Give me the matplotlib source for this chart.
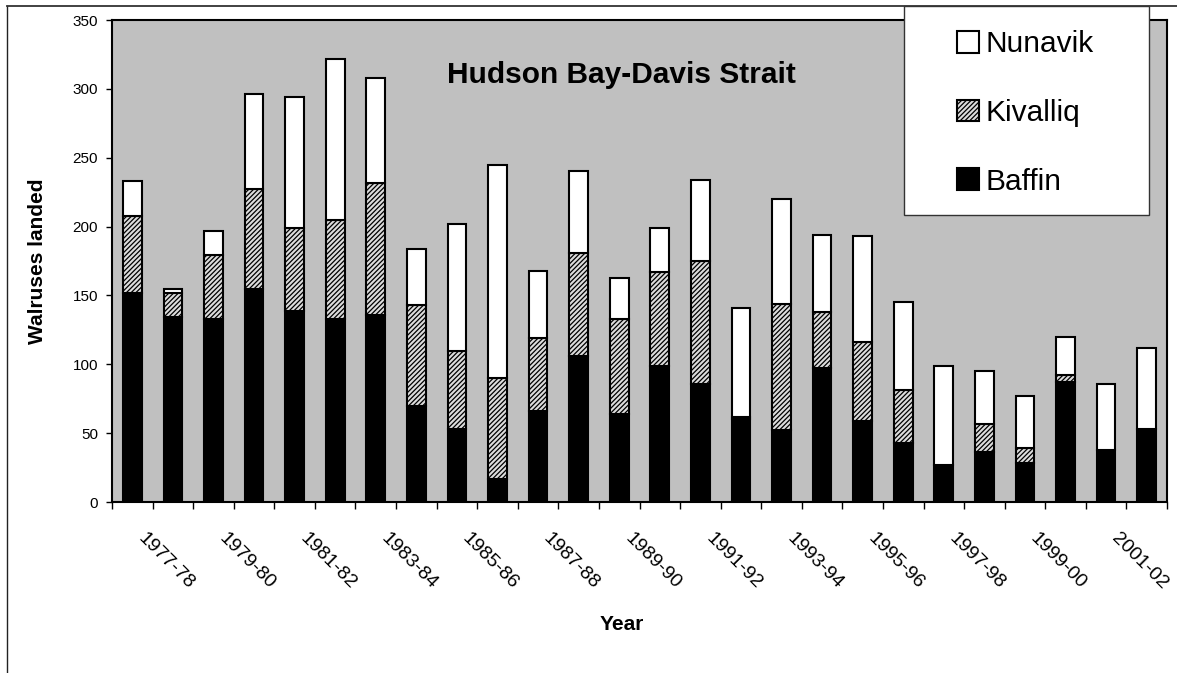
import numpy as np
import matplotlib
matplotlib.use("Agg")
import matplotlib.pyplot as plt
import matplotlib.transforms as mtransforms
from matplotlib.patches import Rectangle
from matplotlib.lines import Line2D

plt.rcParams['font.family'] = ['Liberation Sans', 'DejaVu Sans']
plt.rcParams['hatch.linewidth'] = 0.9

seasons = ["1977-78", "1978-79", "1979-80", "1980-81", "1981-82", "1982-83", "1983-84",
           "1984-85", "1985-86", "1986-87", "1987-88", "1988-89", "1989-90", "1990-91",
           "1991-92", "1992-93", "1993-94", "1994-95", "1995-96", "1996-97", "1997-98",
           "1998-99", "1999-00", "2000-01", "2001-02", "2002-03"]
baffin = [152, 134, 133, 155, 139, 133, 136, 70, 53, 17, 66, 106, 64, 99, 86, 60, 52,
          97, 59, 43, 27, 36, 28, 87, 38, 53]
kivalliq = [56, 18, 46, 72, 60, 72, 96, 73, 57, 73, 53, 75, 69, 68, 89, 2, 92, 41, 57,
            38, 0, 21, 11, 5, 0, 0]
nunavik = [25, 3, 18, 69, 95, 117, 76, 41, 92, 155, 49, 59, 30, 32, 59, 79, 76, 56, 77,
           64, 72, 38, 38, 28, 48, 59]
yticks = [0, 50, 100, 150, 200, 250, 300, 350]

W, H = 1177, 673
fig = plt.figure(figsize=(W / 100, H / 100), dpi=100)
ax = fig.add_axes([112 / W, 1 - 502 / H, 1055 / W, 482 / H])
ax.set_facecolor('#c0c0c0')

x = np.arange(len(seasons))
bw = 0.46
b = np.array(baffin)
k = np.array(kivalliq)
n = np.array(nunavik)
bb = ax.bar(x, b, bw, color='black', edgecolor='black', linewidth=1.5, label='Baffin', zorder=2)
bk = ax.bar(x, k, bw, bottom=b, color='#dcdcdc', edgecolor='black', hatch='///////',
            linewidth=1.5, label='Kivalliq', zorder=2)
bn = ax.bar(x, n, bw, bottom=b + k, color='white', edgecolor='black', linewidth=1.5,
            label='Nunavik', zorder=2)

ax.set_xlim(-0.5, len(seasons) - 0.5)
ax.set_ylim(0, 350)
for s in ax.spines.values():
    s.set_linewidth(1.5)
    s.set_color('black')

ax.set_yticks(yticks)
ax.tick_params(axis='y', direction='out', length=4, width=1, labelsize=11, pad=6)

ax.set_xticks(x[::2])
ax.set_xticklabels(seasons[::2])
ax.set_xticks(np.arange(-0.5, len(seasons), 1), minor=True)
ax.tick_params(axis='x', which='major', length=0, pad=20, labelsize=14)
ax.tick_params(axis='x', which='minor', direction='out', length=5, width=1)
off = mtransforms.ScaledTranslation(14 / 100, 0, fig.dpi_scale_trans)
for lab in ax.get_xticklabels():
    lab.set_rotation(-45)
    lab.set_ha('left')
    lab.set_va('top')
    lab.set_rotation_mode('anchor')
    lab.set_transform(lab.get_transform() + off)

ax.set_ylabel('Walruses landed', fontsize=15, fontweight='bold')
ax.yaxis.set_label_coords(-0.062, 0.5)
ax.set_xlabel('Year', fontsize=15, fontweight='bold')
ax.xaxis.set_label_coords(0.483, -0.235)

ax.text(0.4825, 0.8693, 'Hudson Bay-Davis Strait', transform=ax.transAxes,
        ha='center', va='baseline', fontsize=21.5, fontweight='bold')

# legend box
fig.patches.append(Rectangle((904 / W, 1 - 215 / H), 245 / W, 209 / H,
                             transform=fig.transFigure, facecolor='white',
                             edgecolor='#333333', linewidth=1.0, zorder=4))
leg = fig.legend([bn, bk, bb], ['Nunavik', 'Kivalliq', 'Baffin'], loc='upper left',
                 bbox_to_anchor=(957 / W, 1 - 30 / H), frameon=False, fontsize=21.5,
                 handlelength=0.75, handleheight=0.75, handletextpad=0.2,
                 labelspacing=1.37, borderpad=0, borderaxespad=0)
leg.set_zorder(5)
for h in leg.legend_handles:
    h.set_linewidth(1.5)

# outer chart border
fig.lines.append(Line2D([7 / W, 7 / W], [1 - 6 / H, 0], transform=fig.transFigure,
                        color='#222222', linewidth=1.0))
fig.lines.append(Line2D([7 / W, 1], [1 - 6 / H, 1 - 6 / H], transform=fig.transFigure,
                        color='#333333', linewidth=1.3))

fig.savefig('out.png', dpi=100)
